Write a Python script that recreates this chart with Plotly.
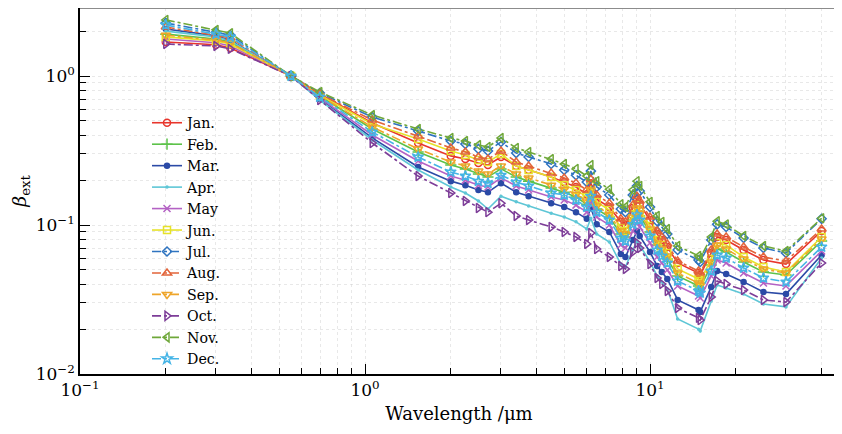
import plotly.graph_objects as go

wavelength = [0.2, 0.3, 0.337, 0.55, 0.694, 1.06, 1.536, 2.0, 2.25, 2.5, 2.7, 3.0, 3.392, 3.75,
              4.5, 5.0, 5.5, 6.0, 6.2, 6.5, 7.2, 7.9, 8.2, 8.7, 9.0, 9.2, 10.0, 10.591, 11.0,
              11.5, 12.5, 14.8, 15.0, 16.4, 17.2, 18.5, 21.3, 25.0, 30.0, 40.0]

jan = [1.69, 1.62, 1.54, 1.0, 0.757, 0.484, 0.355, 0.291, 0.277, 0.261, 0.253, 0.286, 0.249, 0.234,
       0.210, 0.194, 0.180, 0.161, 0.191, 0.149, 0.132, 0.105, 0.100, 0.130, 0.149, 0.138, 0.108,
       0.0870, 0.0793, 0.0712, 0.0556, 0.0476, 0.0462, 0.0649, 0.0831, 0.0793, 0.0680, 0.0582,
       0.0547, 0.0911]
feb = [1.91, 1.77, 1.69, 1.0, 0.734, 0.441, 0.309, 0.253, 0.238, 0.220, 0.210, 0.238, 0.210, 0.197,
       0.177, 0.166, 0.154, 0.138, 0.164, 0.128, 0.113, 0.0870, 0.0831, 0.108, 0.124, 0.115, 0.0898,
       0.0734, 0.0659, 0.0591, 0.0455, 0.0390, 0.0378, 0.0539, 0.0690, 0.0659, 0.0565, 0.0484,
       0.0462, 0.0781]
mar = [2.07, 1.86, 1.74, 1.0, 0.701, 0.384, 0.245, 0.197, 0.185, 0.172, 0.166, 0.191, 0.166, 0.156,
       0.140, 0.132, 0.122, 0.110, 0.130, 0.101, 0.0898, 0.0639, 0.0610, 0.0793, 0.0911, 0.0844,
       0.0659, 0.0531, 0.0484, 0.0434, 0.0314, 0.0269, 0.0261, 0.0384, 0.0491, 0.0469, 0.0415,
       0.0355, 0.0344, 0.0629]
apr = [2.00, 1.83, 1.72, 1.0, 0.690, 0.372, 0.234, 0.180, 0.164, 0.145, 0.128, 0.156, 0.143, 0.134,
       0.120, 0.113, 0.105, 0.0940, 0.111, 0.0870, 0.0769, 0.0547, 0.0523, 0.0680, 0.0781, 0.0734,
       0.0565, 0.0455, 0.0415, 0.0372, 0.0234, 0.0200, 0.0194, 0.0309, 0.0396, 0.0378, 0.0344,
       0.0295, 0.0282, 0.0601]
may = [1.77, 1.67, 1.59, 1.0, 0.712, 0.402, 0.269, 0.213, 0.200, 0.185, 0.180, 0.207, 0.183, 0.172,
       0.154, 0.147, 0.136, 0.122, 0.145, 0.113, 0.100, 0.0734, 0.0701, 0.0911, 0.105, 0.0970,
       0.0757, 0.0610, 0.0556, 0.0499, 0.0390, 0.0334, 0.0324, 0.0455, 0.0582, 0.0556, 0.0476,
       0.0408, 0.0390, 0.0669]
jun = [1.83, 1.72, 1.64, 1.0, 0.746, 0.476, 0.378, 0.314, 0.295, 0.273, 0.265, 0.300, 0.249, 0.234,
       0.210, 0.185, 0.172, 0.154, 0.183, 0.143, 0.126, 0.0955, 0.0911, 0.118, 0.136, 0.126, 0.0985,
       0.0793, 0.0734, 0.0649, 0.0507, 0.0434, 0.0421, 0.0591, 0.0757, 0.0734, 0.0610, 0.0523,
       0.0484, 0.0831]
jul = [2.27, 1.97, 1.88, 1.0, 0.769, 0.531, 0.428, 0.366, 0.350, 0.324, 0.314, 0.361, 0.304, 0.286,
       0.257, 0.234, 0.216, 0.194, 0.230, 0.180, 0.159, 0.128, 0.122, 0.159, 0.183, 0.169, 0.132,
       0.106, 0.0970, 0.0870, 0.0680, 0.0582, 0.0565, 0.0793, 0.101, 0.0970, 0.0818, 0.0701,
       0.0649, 0.110]
aug = [2.13, 1.88, 1.80, 1.0, 0.757, 0.507, 0.396, 0.329, 0.309, 0.286, 0.277, 0.314, 0.265, 0.249,
       0.223, 0.207, 0.191, 0.172, 0.203, 0.159, 0.140, 0.110, 0.105, 0.136, 0.156, 0.145, 0.113,
       0.0911, 0.0831, 0.0746, 0.0573, 0.0491, 0.0476, 0.0680, 0.0870, 0.0831, 0.0712, 0.0610,
       0.0573, 0.0940]
sep = [1.88, 1.74, 1.67, 1.0, 0.734, 0.455, 0.324, 0.265, 0.249, 0.230, 0.220, 0.249, 0.220, 0.207,
       0.185, 0.174, 0.161, 0.145, 0.172, 0.134, 0.118, 0.0911, 0.0870, 0.113, 0.130, 0.120, 0.0940,
       0.0757, 0.0690, 0.0620, 0.0476, 0.0408, 0.0396, 0.0565, 0.0734, 0.0690, 0.0591, 0.0507,
       0.0476, 0.0805]
oct_ = [1.64, 1.59, 1.52, 1.0, 0.690, 0.355, 0.213, 0.164, 0.145, 0.130, 0.122, 0.140, 0.115, 0.108,
        0.0970, 0.0898, 0.0831, 0.0746, 0.0884, 0.0690, 0.0610, 0.0531, 0.0507, 0.0659, 0.0757,
        0.0701, 0.0547, 0.0441, 0.0402, 0.0361, 0.0277, 0.0238, 0.0230, 0.0329, 0.0421, 0.0402,
        0.0366, 0.0314, 0.0304, 0.0556]
nov = [2.38, 2.04, 1.94, 1.0, 0.781, 0.547, 0.441, 0.384, 0.366, 0.344, 0.334, 0.384, 0.329, 0.309,
       0.277, 0.257, 0.238, 0.213, 0.253, 0.197, 0.174, 0.138, 0.132, 0.172, 0.197, 0.183, 0.143,
       0.115, 0.105, 0.0940, 0.0723, 0.0620, 0.0601, 0.0831, 0.106, 0.101, 0.0844, 0.0723,
       0.0669, 0.111]
dec = [2.20, 1.91, 1.83, 1.0, 0.723, 0.421, 0.286, 0.227, 0.213, 0.197, 0.191, 0.216, 0.194, 0.183,
       0.164, 0.159, 0.147, 0.132, 0.156, 0.122, 0.108, 0.0818, 0.0781, 0.101, 0.117, 0.108, 0.0844,
       0.0680, 0.0620, 0.0556, 0.0421, 0.0361, 0.0350, 0.0491, 0.0629, 0.0601, 0.0515, 0.0441,
       0.0415, 0.0712]

month_names = ["Jan.", "Feb.", "Mar.", "Apr.", "May", "Jun.", "Jul.", "Aug.", "Sep.", "Oct.", "Nov.", "Dec."]
month_values = [jan, feb, mar, apr, may, jun, jul, aug, sep, oct_, nov, dec]

colors = ["#e8352c", "#5cc24a", "#2b4aa6", "#5ec6d6", "#b462c4", "#e6e22a",
          "#2f74c0", "#e2643a", "#eea52a", "#7d3d98", "#6fa83a", "#44b4e6"]
symbols = ["circle-open", "cross-thin-open", "circle", "circle", "x-thin-open", "square-open",
           "diamond-open", "triangle-up-open", "triangle-down-open", "triangle-right-open",
           "triangle-left-open", "star-open"]
sizes = [7, 8, 5, 2, 7, 7, 7, 8, 8, 8, 8, 8]
dashes = ["solid"] * 6 + ["dashdot"] * 6

FONT = "DejaVu Serif"

fig = go.Figure()
for name, vals, c, s, sz, d in zip(month_names, month_values, colors, symbols, sizes, dashes):
    fig.add_trace(go.Scatter(
        x=wavelength, y=vals, name=name, mode="lines+markers",
        line=dict(color=c, width=1.6, dash=d),
        marker=dict(symbol=s, size=sz, color=c, line=dict(color=c, width=1.5)),
    ))

minor_x = [m * 10 ** e for e in (-1, 0, 1) for m in range(2, 10)]
minor_y = [m * 10 ** e for e in (-2, -1, 0) for m in range(2, 10)]

GRID = "rgba(205,205,205,0.45)"

# page body has an 8px default margin, so the figure is sized/offset to compensate
fig.update_layout(
    width=834, height=426,
    margin=dict(l=72, r=4, t=0, b=60, autoexpand=False),
    paper_bgcolor="white", plot_bgcolor="white",
    font=dict(family=FONT, size=17, color="black"),
    showlegend=True,
    legend=dict(x=0.0884, y=0.7295, xanchor="left", yanchor="top",
                bgcolor="rgba(0,0,0,0)", borderwidth=0,
                font=dict(family=FONT, size=14.2), tracegroupgap=0),
    xaxis=dict(type="log", range=[-1, 1.6596], automargin=False,
               tickmode="array", tickvals=[0.1, 1, 10],
               ticktext=["10<sup>−1</sup>", "10<sup>0</sup>", "10<sup>1</sup>"],
               ticks="inside", ticklen=10, tickwidth=1.3, tickcolor="black",
               showline=True, linecolor="black", linewidth=1.6,
               showgrid=True, gridcolor=GRID, griddash="dot", gridwidth=1,
               minor=dict(tickmode="array", tickvals=minor_x, ticks="inside", ticklen=6,
                          tickwidth=1.2, tickcolor="black", showgrid=True,
                          gridcolor=GRID, griddash="dot", gridwidth=1),
               zeroline=False,
               title=dict(text="Wavelength /μm", font=dict(family=FONT, size=18), standoff=8)),
    yaxis=dict(type="log", range=[-2, 0.4564], automargin=False,
               tickmode="array", tickvals=[0.01, 0.1, 1],
               ticktext=["10<sup>−2</sup>", "10<sup>−1</sup>", "10<sup>0</sup>"],
               ticks="inside", ticklen=10, tickwidth=1.3, tickcolor="black",
               showline=True, linecolor="black", linewidth=1.6,
               showgrid=True, gridcolor=GRID, griddash="dot", gridwidth=1,
               minor=dict(tickmode="array", tickvals=minor_y, ticks="inside", ticklen=6,
                          tickwidth=1.2, tickcolor="black", showgrid=True,
                          gridcolor=GRID, griddash="dot", gridwidth=1),
               zeroline=False,
               title=dict(text="<i>β</i><sub>ext</sub>", font=dict(family=FONT, size=19), standoff=14)),
)

fig.add_shape(type="line", xref="paper", yref="paper", x0=0, x1=1, y0=1, y1=1,
              line=dict(color="#8c8c8c", width=2))

fig.write_html("out.html")
